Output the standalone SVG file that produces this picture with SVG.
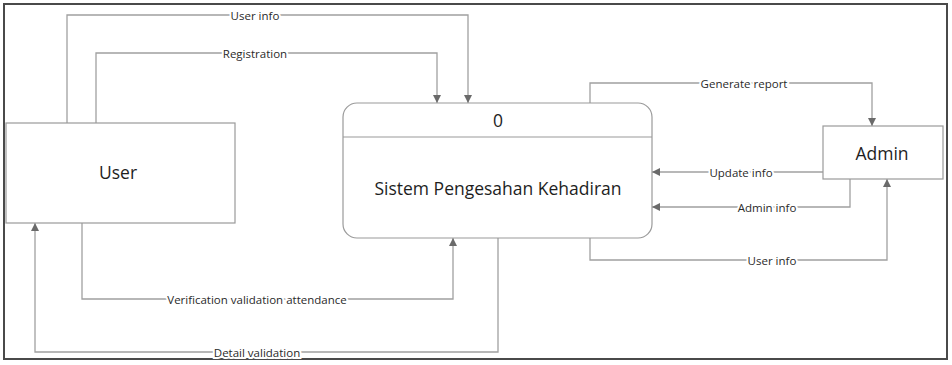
<svg xmlns="http://www.w3.org/2000/svg" width="952" height="365" viewBox="0 0 952 365">
  <style>
    .frame { fill: #ffffff; stroke: #4a4a4a; stroke-width: 2; }
    .box { fill: #ffffff; stroke: #9a9a9a; stroke-width: 1.2; }
    .node-text { font-family: "Open Sans", "Liberation Sans", sans-serif; font-size: 17.5px; fill: #1e1e1e; text-anchor: middle; dominant-baseline: central; }
    .flow { fill: none; stroke: #a0a0a0; stroke-width: 1.3; marker-end: url(#arrow); }
    .flow-label { font-family: "Open Sans", "Liberation Sans", sans-serif; font-size: 11.5px; fill: #2a2a2a; text-anchor: middle; dominant-baseline: central; stroke: #ffffff; stroke-width: 4; paint-order: stroke; }
  </style>
  <defs>
    <marker id="arrow" viewBox="0 0 10 10" refX="10" refY="5" markerWidth="8" markerHeight="8" markerUnits="userSpaceOnUse" orient="auto">
      <path d="M0,0 L10,5 L0,10 z" fill="#6a6a6a"/>
    </marker>
  </defs>

  <rect class="frame" x="4" y="4" width="943" height="355"/>

  <g id="connectors">
    <path class="flow" d="M67,123 V15 H468 V103"/>
    <text class="flow-label" x="255" y="15">User info</text>

    <path class="flow" d="M96,123 V53 H437 V103"/>
    <text class="flow-label" x="255" y="53">Registration</text>

    <path class="flow" d="M590,103 V83 H872 V126"/>
    <text class="flow-label" x="744" y="83">Generate report</text>

    <path class="flow" d="M823,172 H652"/>
    <text class="flow-label" x="741" y="172">Update info</text>

    <path class="flow" d="M850,179 V207 H652"/>
    <text class="flow-label" x="767" y="207">Admin info</text>

    <path class="flow" d="M590,238 V260 H887 V179"/>
    <text class="flow-label" x="772" y="260">User info</text>

    <path class="flow" d="M82,223 V299 H453 V238"/>
    <text class="flow-label" x="257" y="299">Verification validation attendance</text>

    <path class="flow" d="M498,238 V352 H35 V223"/>
    <text class="flow-label" x="257" y="352">Detail validation</text>
  </g>

  <g id="user">
    <rect class="box" x="6" y="123" width="229" height="100"/>
    <text class="node-text" x="118" y="172">User</text>
  </g>

  <g id="process-0">
    <rect class="box" x="343" y="103" width="309" height="135" rx="14" ry="14"/>
    <line x1="343" y1="137" x2="652" y2="137" stroke="#9a9a9a" stroke-width="1.2"/>
    <text class="node-text" x="498" y="120">0</text>
    <text class="node-text" x="498" y="188">Sistem Pengesahan Kehadiran</text>
  </g>

  <g id="admin">
    <rect class="box" x="823" y="126" width="120" height="53"/>
    <text class="node-text" x="882" y="153">Admin</text>
  </g>
</svg>
